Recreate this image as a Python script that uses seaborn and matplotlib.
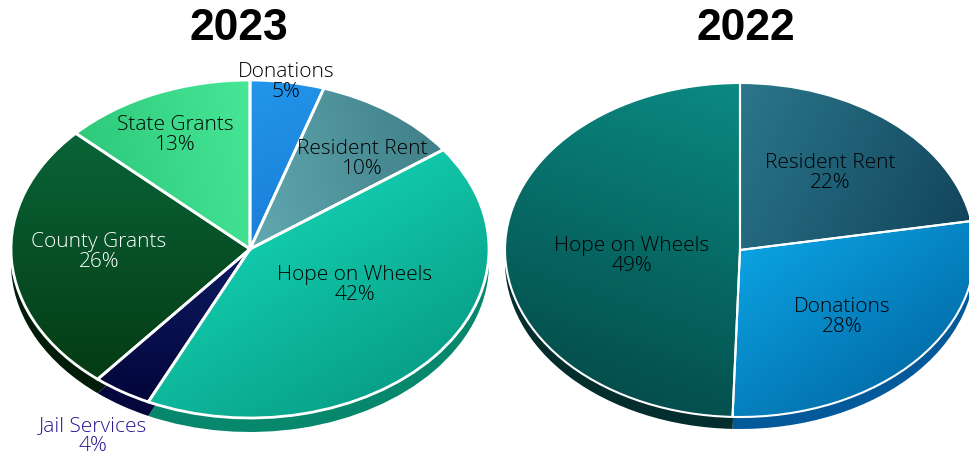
import numpy as np
import matplotlib
matplotlib.use("Agg")
import matplotlib.pyplot as plt
from matplotlib.colors import to_rgb
import seaborn as sns

# Data
labels_2023 = ["Donations", "Resident Rent", "Hope on Wheels", "Jail Services", "County Grants", "State Grants"]
values_2023 = [5, 10, 42, 4, 26, 13]
labels_2022 = ["Resident Rent", "Donations", "Hope on Wheels"]
values_2022 = [22, 28, 49]

# Styles: (start colour, end colour, gradient direction in degrees)
grad_2023 = [("#2296ea", "#1a7fda", -60), ("#62a9b1", "#3f7f88", 10), ("#12c9ab", "#08a088", -50),
             ("#0e1c62", "#03053a", -90), ("#0a6338", "#043c14", -90), ("#2ec97b", "#47e798", 10)]
side_2023 = ["#1a7fda", "#3d7c86", "#07876c", "#04063c", "#021c0a", "#2ec97b"]
grad_2022 = [("#2b778b", "#12455d", -20), ("#0ba2e2", "#0371ae", -45), ("#0b8a82", "#044e4c", -115)]
side_2022 = ["#12455d", "#04599b", "#032e2d"]

# Layout in reference pixels
W, H = 970, 456
box_2023 = (11, 81, 489, 419)
box_2022 = (505, 84, 975, 418)
text_2023 = [(286, 82, "black"), (362, 159, "black"), (355, 285, "black"),
             (93, 436, "#2a1590"), (99, 252, "white"), (175, 135, "black")]
text_2022 = [(830, 173, "black"), (842, 317, "black"), (632, 256, "black")]
FONT = "Open Sans"

sns.set_theme(style="white")
plt.rcParams["font.family"] = [FONT, "DejaVu Sans"]

fig = plt.figure(figsize=(W / 100, H / 100), dpi=100, facecolor="white")


def draw(box, values, grad, side, depth, lw):
    x0, y0, x1, y1 = box
    ax = fig.add_axes([x0 / W, 1 - y1 / H, (x1 - x0) / W, (y1 - y0) / H])
    yscale = (y1 - y0) / 2
    pie_args = dict(startangle=90, counterclock=False, radius=1)
    ax.pie(values, colors=sns.color_palette(side), center=(0, -depth / yscale),
           wedgeprops=dict(linewidth=0), **pie_args)
    faces = sns.color_palette([g[0] for g in grad])
    wedges, _ = ax.pie(values, colors=faces, wedgeprops=dict(linewidth=0), **pie_args)
    xx, yy = np.meshgrid(np.linspace(-1, 1, 240), np.linspace(-1, 1, 240))
    for w, (c0, c1, ang) in zip(wedges, grad):
        d = np.array([np.cos(np.radians(ang)), np.sin(np.radians(ang))])
        verts = w.get_path().vertices
        proj = verts[:, 0] * d[0] + verts[:, 1] * d[1]
        t = np.clip((xx * d[0] + yy * d[1] - proj.min()) / (proj.max() - proj.min()), 0, 1)[..., None]
        img = (1 - t) * np.array(to_rgb(c0)) + t * np.array(to_rgb(c1))
        im = ax.imshow(img, extent=(-1, 1, -1, 1), origin="lower", aspect="auto",
                       interpolation="bilinear", zorder=2)
        im.set_clip_path(w)
    rims, _ = ax.pie(values, colors=faces, wedgeprops=dict(linewidth=lw, edgecolor="white"), **pie_args)
    for r in rims:
        r.set_facecolor("none")
        r.set_zorder(3)
    ax.set_aspect("auto")
    ax.set_xlim(-1, 1)
    ax.set_ylim(-1, 1)
    ax.axis("off")
    return ax


draw(box_2023, values_2023, grad_2023, side_2023, 14, 2.0)
draw(box_2022, values_2022, grad_2022, side_2022, 12, 1.5)


def annotate(labels, values, placement):
    for name, v, (x, y, c) in zip(labels, values, placement):
        fig.text(x / W, 1 - y / H, f"{name}\n{v}%", ha="center", va="center",
                 fontsize=15, color=c, linespacing=0.96, fontweight="light", zorder=10)


annotate(labels_2023, values_2023, text_2023)
annotate(labels_2022, values_2022, text_2022)
for title, x in (("2023", 239), ("2022", 746)):
    fig.text(x / W, 1 - 29 / H, title, ha="center", va="center", fontsize=32,
             fontweight="bold", color="black", family=["Liberation Sans", "DejaVu Sans"])

fig.savefig("out.png", dpi=100, facecolor="white")
